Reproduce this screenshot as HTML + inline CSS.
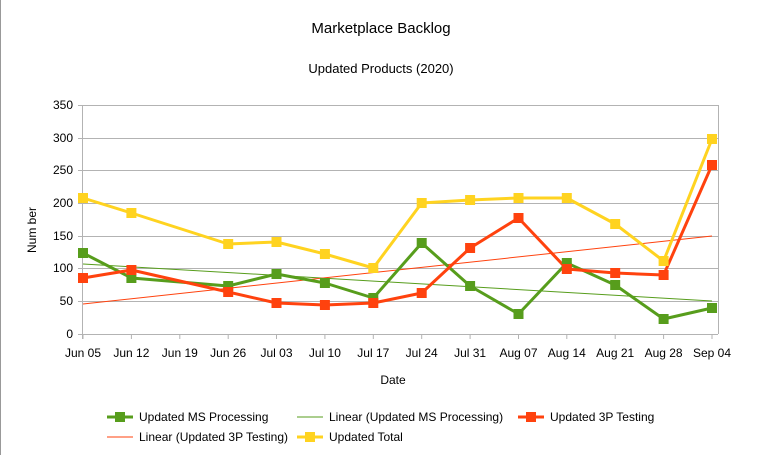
<!DOCTYPE html><html><head><style>body{margin:0;background:#fff}svg{display:block;font-family:"Liberation Sans",sans-serif}</style></head><body>
<svg width="763" height="455" viewBox="0 0 763 455" xmlns="http://www.w3.org/2000/svg">
<rect width="763" height="455" fill="#fff"/>
<line x1="0.5" y1="0" x2="0.5" y2="455" stroke="#999"/>
<text x="381" y="33" font-size="15" text-anchor="middle">Marketplace Backlog</text>
<text x="381" y="73" font-size="13" text-anchor="middle">Updated Products (2020)</text>
<g stroke="#b3b3b3" stroke-width="1">
<line x1="78" x2="718" y1="105.5" y2="105.5"/><line x1="78" x2="718" y1="138.5" y2="138.5"/><line x1="78" x2="718" y1="170.5" y2="170.5"/><line x1="78" x2="718" y1="203.5" y2="203.5"/><line x1="78" x2="718" y1="236.5" y2="236.5"/><line x1="78" x2="718" y1="268.5" y2="268.5"/><line x1="78" x2="718" y1="301.5" y2="301.5"/><line x1="78" x2="718" y1="334.5" y2="334.5"/>
<line x1="82.5" x2="82.5" y1="105" y2="339"/><line x1="718.5" x2="718.5" y1="105" y2="334"/>
</g>
<g stroke="#b3b3b3"><path d="M83 334v5M131.4 334v5M179.8 334v5M228.2 334v5M276.5 334v5M324.9 334v5M373.3 334v5M421.7 334v5M470.1 334v5M518.5 334v5M566.8 334v5M615.2 334v5M663.6 334v5M712 334v5"/></g>
<g font-size="12" text-anchor="end">
<text x="73" y="109">350</text><text x="73" y="142">300</text><text x="73" y="174">250</text><text x="73" y="207">200</text><text x="73" y="240">150</text><text x="73" y="272">100</text><text x="73" y="305">50</text><text x="73" y="338">0</text></g>
<g font-size="12" text-anchor="middle">
<text x="83" y="357">Jun 05</text><text x="131.4" y="357">Jun 12</text><text x="179.8" y="357">Jun 19</text><text x="228.2" y="357">Jun 26</text><text x="276.5" y="357">Jul 03</text><text x="324.9" y="357">Jul 10</text><text x="373.3" y="357">Jul 17</text><text x="421.7" y="357">Jul 24</text><text x="470.1" y="357">Jul 31</text><text x="518.5" y="357">Aug 07</text><text x="566.8" y="357">Aug 14</text><text x="615.2" y="357">Aug 21</text><text x="663.6" y="357">Aug 28</text><text x="712" y="357">Sep 04</text></g>
<text x="393" y="384" font-size="12" text-anchor="middle">Date</text>
<text transform="translate(36,230) rotate(-90)" font-size="12" text-anchor="middle">Num ber</text>
<line x1="83" y1="264" x2="712" y2="301" stroke="#579d1c" stroke-width="1"/>
<line x1="83" y1="304" x2="712" y2="236" stroke="#ff420e" stroke-width="1"/>
<g fill="none" stroke-width="3" stroke-linejoin="round">
<polyline stroke="#ffd320" points="83,198 131.4,213 228.2,244 276.5,242 324.9,254 373.3,268 421.7,203 470.1,200 518.5,198 566.8,198 615.2,224 663.6,261 712,139"/>
<polyline stroke="#579d1c" points="83,253 131.4,278 228.2,286 276.5,274 324.9,283 373.3,298 421.7,243 470.1,286 518.5,314 566.8,263 615.2,285 663.6,319 712,308"/>
<polyline stroke="#ff420e" points="83,278 131.4,270 228.2,292 276.5,303 324.9,305 373.3,303 421.7,293 470.1,248 518.5,218 566.8,269 615.2,273 663.6,275 712,165"/>
</g>
<g fill="#ffd320"><rect x="78" y="193" width="10" height="10"/><rect x="126.4" y="208" width="10" height="10"/><rect x="223.2" y="239" width="10" height="10"/><rect x="271.5" y="237" width="10" height="10"/><rect x="319.9" y="249" width="10" height="10"/><rect x="368.3" y="263" width="10" height="10"/><rect x="416.7" y="198" width="10" height="10"/><rect x="465.1" y="195" width="10" height="10"/><rect x="513.5" y="193" width="10" height="10"/><rect x="561.8" y="193" width="10" height="10"/><rect x="610.2" y="219" width="10" height="10"/><rect x="658.6" y="256" width="10" height="10"/><rect x="707" y="134" width="10" height="10"/></g>
<g fill="#579d1c"><rect x="78" y="248" width="10" height="10"/><rect x="126.4" y="273" width="10" height="10"/><rect x="223.2" y="281" width="10" height="10"/><rect x="271.5" y="269" width="10" height="10"/><rect x="319.9" y="278" width="10" height="10"/><rect x="368.3" y="293" width="10" height="10"/><rect x="416.7" y="238" width="10" height="10"/><rect x="465.1" y="281" width="10" height="10"/><rect x="513.5" y="309" width="10" height="10"/><rect x="561.8" y="258" width="10" height="10"/><rect x="610.2" y="280" width="10" height="10"/><rect x="658.6" y="314" width="10" height="10"/><rect x="707" y="303" width="10" height="10"/></g>
<g fill="#ff420e"><rect x="78" y="273" width="10" height="10"/><rect x="126.4" y="265" width="10" height="10"/><rect x="223.2" y="287" width="10" height="10"/><rect x="271.5" y="298" width="10" height="10"/><rect x="319.9" y="300" width="10" height="10"/><rect x="368.3" y="298" width="10" height="10"/><rect x="416.7" y="288" width="10" height="10"/><rect x="465.1" y="243" width="10" height="10"/><rect x="513.5" y="213" width="10" height="10"/><rect x="561.8" y="264" width="10" height="10"/><rect x="610.2" y="268" width="10" height="10"/><rect x="658.6" y="270" width="10" height="10"/><rect x="707" y="160" width="10" height="10"/></g>
<g font-size="12">
<line x1="107" x2="133" y1="417" y2="417" stroke="#579d1c" stroke-width="3"/><rect x="115" y="412" width="10" height="10" fill="#579d1c"/><text x="139" y="421">Updated MS Processing</text>
<line x1="297" x2="323" y1="417" y2="417" stroke="#579d1c"/><text x="329" y="421">Linear (Updated MS Processing)</text>
<line x1="518" x2="544" y1="417" y2="417" stroke="#ff420e" stroke-width="3"/><rect x="526" y="412" width="10" height="10" fill="#ff420e"/><text x="550" y="421">Updated 3P Testing</text>
<line x1="107" x2="133" y1="437" y2="437" stroke="#ff420e"/><text x="139" y="441">Linear (Updated 3P Testing)</text>
<line x1="297" x2="323" y1="437" y2="437" stroke="#ffd320" stroke-width="3"/><rect x="305" y="432" width="10" height="10" fill="#ffd320"/><text x="329" y="441">Updated Total</text>
</g>
</svg></body></html>
